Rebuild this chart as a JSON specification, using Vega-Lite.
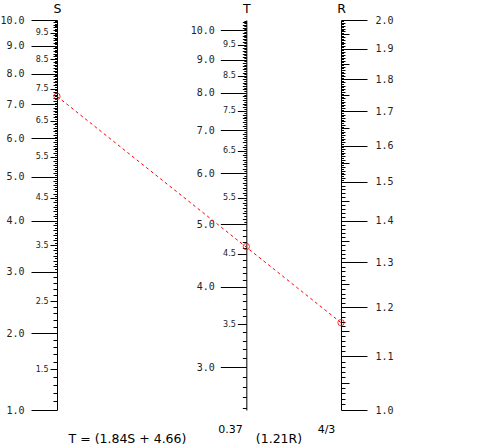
{
  "$schema": "https://vega.github.io/schema/vega-lite/v6.json",
  "width": 284,
  "height": 390,
  "autosize": "none",
  "padding": {"left": 57, "top": 20, "right": 159, "bottom": 34},
  "background": "white",
  "config": {"view": {"stroke": null}},
  "datasets": {
    "isopleth": [{"axis": "S", "t": 7.901}, {"axis": "R", "t": 3.521}],
    "pointS": [{"axis": "S", "value": 7.25}],
    "pointT": [{"axis": "T", "value": 4.62}],
    "pointR": [{"axis": "R", "value": 1.168}]
  },
  "encoding": {
    "x": {
      "field": "axis", "type": "nominal",
      "scale": {"type": "point", "domain": ["S", "gap", "T", "R"], "padding": 0},
      "axis": {
        "orient": "bottom", "title": null, "domain": false, "ticks": false, "tickSize": 0, "grid": false,
        "labelAngle": 0, "labelAlign": "center", "labelBaseline": "alphabetic",
        "labelExpr": "datum.value == 'S' ? 'T = (1.84S + 4.66)' : datum.value == 'gap' ? '(1.21R)' : datum.value == 'T' ? '0.37' : '4/3'",
        "labelOffset": {"condition": [{"test": "datum.value == 'S'", "value": 70}, {"test": "datum.value == 'gap'", "value": 126.8}, {"test": "datum.value == 'T'", "value": -16.3}], "value": -15},
        "labelPadding": {"condition": {"test": "datum.value == 'S' || datum.value == 'gap'", "value": 32}, "value": 22},
        "labelFontSize": {"condition": {"test": "datum.value == 'S' || datum.value == 'gap'", "value": 12.5}, "value": 11},
        "labelFont": "DejaVu Sans", "labelColor": "#000", "labelOverlap": false, "labelBound": false, "labelFlush": false, "labelLimit": 0
      }
    }
  },
  "layer": [
    {
      "data": {"name": "isopleth"},
      "mark": {"type": "line", "color": "red", "strokeWidth": 1, "strokeDash": [3, 3]},
      "encoding": {
        "y": {"field": "t", "type": "quantitative", "scale": {"type": "log", "domain": [2.57726, 10.37556], "nice": false, "zero": false}, "axis": null}
      }
    },
    {
      "data": {"name": "pointS"},
      "mark": {"type": "point", "shape": "circle", "filled": false, "color": "red", "size": 40, "strokeWidth": 0.8, "opacity": 1},
      "encoding": {
        "y": {
          "field": "value", "type": "quantitative",
          "scale": {"type": "symlog", "constant": 2.532609, "domain": [1, 10], "nice": false, "zero": false},
          "axis": {
            "orient": "left", "title": "S",
            "values": [1,1.1,1.2,1.3,1.4,1.5,1.6,1.7,1.8,1.9,2,2.1,2.2,2.3,2.4,2.5,2.6,2.7,2.8,2.9,3,3.05,3.1,3.15,3.2,3.25,3.3,3.35,3.4,3.45,3.5,3.55,3.6,3.65,3.7,3.75,3.8,3.85,3.9,3.95,4,4.05,4.1,4.15,4.2,4.25,4.3,4.35,4.4,4.45,4.5,4.55,4.6,4.65,4.7,4.75,4.8,4.85,4.9,4.95,5,5.05,5.1,5.15,5.2,5.25,5.3,5.35,5.4,5.45,5.5,5.55,5.6,5.65,5.7,5.75,5.8,5.85,5.9,5.95,6,6.05,6.1,6.15,6.2,6.25,6.3,6.35,6.4,6.45,6.5,6.55,6.6,6.65,6.7,6.75,6.8,6.85,6.9,6.95,7,7.05,7.1,7.15,7.2,7.25,7.3,7.35,7.4,7.45,7.5,7.55,7.6,7.65,7.7,7.75,7.8,7.85,7.9,7.95,8,8.05,8.1,8.15,8.2,8.25,8.3,8.35,8.4,8.45,8.5,8.55,8.6,8.65,8.7,8.75,8.8,8.85,8.9,8.95,9,9.05,9.1,9.15,9.2,9.25,9.3,9.35,9.4,9.45,9.5,9.55,9.6,9.65,9.7,9.75,9.8,9.85,9.9,9.95,10],
            "domain": true, "domainColor": "#000", "domainWidth": 1,
            "ticks": true, "tickColor": "#000", "tickWidth": 1,
            "tickSize": {"condition": [
              {"test": "abs(datum.value - round(datum.value)) < 1e-6", "value": 26},
              {"test": "abs(datum.value*2 - round(datum.value*2)) < 1e-6", "value": 7},
              {"test": "abs(datum.value*10 - round(datum.value*10)) < 1e-6", "value": 4}
            ], "value": 2.5},
            "labelExpr": "abs(datum.value*2 - round(datum.value*2)) < 1e-6 ? format(datum.value, '.1f') : ''",
            "labelFont": {"condition": {"test": "abs(datum.value - round(datum.value)) < 1e-6", "value": "DejaVu Sans Mono"}, "value": "DejaVu Sans"},
            "labelFontSize": {"condition": {"test": "abs(datum.value - round(datum.value)) < 1e-6", "value": 10}, "value": 8},
            "labelPadding": {"condition": {"test": "abs(datum.value - round(datum.value)) < 1e-6", "value": 7}, "value": 2},
            "labelColor": "#222", "labelOverlap": false, "labelBound": false, "labelFlush": false, "grid": false,
            "titleAngle": 0, "titleX": 0, "titleY": -8, "titleAlign": "center", "titleBaseline": "alphabetic",
            "titleFont": "DejaVu Sans", "titleFontSize": 12.5, "titleFontWeight": "normal", "titleColor": "#000"
          }
        }
      }
    },
    {
      "data": {"name": "pointT"},
      "mark": {"type": "point", "shape": "circle", "filled": false, "color": "red", "size": 40, "strokeWidth": 0.8, "opacity": 1},
      "encoding": {
        "y": {
          "field": "value", "type": "quantitative",
          "scale": {"type": "log", "domain": [2.57726, 10.37556], "nice": false, "zero": false},
          "axis": {
            "orient": "left", "offset": -189.33, "title": "T",
            "values": [2.6,2.7,2.8,2.9,3,3.1,3.2,3.3,3.4,3.5,3.6,3.7,3.8,3.9,4,4.1,4.2,4.3,4.4,4.5,4.6,4.7,4.8,4.9,5,5.05,5.1,5.15,5.2,5.25,5.3,5.35,5.4,5.45,5.5,5.55,5.6,5.65,5.7,5.75,5.8,5.85,5.9,5.95,6,6.05,6.1,6.15,6.2,6.25,6.3,6.35,6.4,6.45,6.5,6.55,6.6,6.65,6.7,6.75,6.8,6.85,6.9,6.95,7,7.05,7.1,7.15,7.2,7.25,7.3,7.35,7.4,7.45,7.5,7.55,7.6,7.65,7.7,7.75,7.8,7.85,7.9,7.95,8,8.05,8.1,8.15,8.2,8.25,8.3,8.35,8.4,8.45,8.5,8.55,8.6,8.65,8.7,8.75,8.8,8.85,8.9,8.95,9,9.05,9.1,9.15,9.2,9.25,9.3,9.35,9.4,9.45,9.5,9.55,9.6,9.65,9.7,9.75,9.8,9.85,9.9,9.95,10,10.05,10.1,10.15,10.2,10.25,10.3,10.35],
            "domain": true, "domainColor": "#000", "domainWidth": 1,
            "ticks": true, "tickColor": "#000", "tickWidth": 1,
            "tickSize": {"condition": [
              {"test": "abs(datum.value - round(datum.value)) < 1e-6", "value": 26},
              {"test": "abs(datum.value*2 - round(datum.value*2)) < 1e-6", "value": 9},
              {"test": "abs(datum.value*10 - round(datum.value*10)) < 1e-6", "value": 4}
            ], "value": 2.5},
            "labelExpr": "abs(datum.value*2 - round(datum.value*2)) < 1e-6 ? format(datum.value, '.1f') : ''",
            "labelFont": {"condition": {"test": "abs(datum.value - round(datum.value)) < 1e-6", "value": "DejaVu Sans Mono"}, "value": "DejaVu Sans"},
            "labelFontSize": {"condition": {"test": "abs(datum.value - round(datum.value)) < 1e-6", "value": 10}, "value": 8},
            "labelPadding": {"condition": {"test": "abs(datum.value - round(datum.value)) < 1e-6", "value": 6}, "value": 2},
            "labelColor": "#222", "labelOverlap": false, "labelBound": false, "labelFlush": false, "grid": false,
            "titleAngle": 0, "titleX": 0, "titleY": -8, "titleAlign": "center", "titleBaseline": "alphabetic",
            "titleFont": "DejaVu Sans", "titleFontSize": 12.5, "titleFontWeight": "normal", "titleColor": "#000"
          }
        }
      }
    },
    {
      "data": {"name": "pointR"},
      "mark": {"type": "point", "shape": "circle", "filled": false, "color": "red", "size": 40, "strokeWidth": 0.8, "opacity": 1},
      "encoding": {
        "y": {
          "field": "value", "type": "quantitative",
          "scale": {"type": "log", "domain": [1, 2], "nice": false, "zero": false},
          "axis": {
            "orient": "right", "title": "R",
            "values": [1,1.01,1.02,1.03,1.04,1.05,1.06,1.07,1.08,1.09,1.1,1.11,1.12,1.13,1.14,1.15,1.16,1.17,1.18,1.19,1.2,1.21,1.22,1.23,1.24,1.25,1.26,1.27,1.28,1.29,1.3,1.31,1.32,1.33,1.34,1.35,1.36,1.37,1.38,1.39,1.4,1.41,1.42,1.43,1.44,1.45,1.46,1.47,1.48,1.49,1.5,1.505,1.51,1.515,1.52,1.525,1.53,1.535,1.54,1.545,1.55,1.555,1.56,1.565,1.57,1.575,1.58,1.585,1.59,1.595,1.6,1.605,1.61,1.615,1.62,1.625,1.63,1.635,1.64,1.645,1.65,1.655,1.66,1.665,1.67,1.675,1.68,1.685,1.69,1.695,1.7,1.705,1.71,1.715,1.72,1.725,1.73,1.735,1.74,1.745,1.75,1.755,1.76,1.765,1.77,1.775,1.78,1.785,1.79,1.795,1.8,1.805,1.81,1.815,1.82,1.825,1.83,1.835,1.84,1.845,1.85,1.855,1.86,1.865,1.87,1.875,1.88,1.885,1.89,1.895,1.9,1.905,1.91,1.915,1.92,1.925,1.93,1.935,1.94,1.945,1.95,1.955,1.96,1.965,1.97,1.975,1.98,1.985,1.99,1.995,2],
            "domain": true, "domainColor": "#000", "domainWidth": 1,
            "ticks": true, "tickColor": "#000", "tickWidth": 1,
            "tickSize": {"condition": [
              {"test": "abs(datum.value*10 - round(datum.value*10)) < 1e-6", "value": 26},
              {"test": "abs(datum.value*20 - round(datum.value*20)) < 1e-6", "value": 8},
              {"test": "abs(datum.value*100 - round(datum.value*100)) < 1e-6", "value": 4}
            ], "value": 2.5},
            "labelExpr": "abs(datum.value*10 - round(datum.value*10)) < 1e-6 ? format(datum.value, '.1f') : ''",
            "labelFont": "DejaVu Sans Mono", "labelFontSize": 10, "labelPadding": 8,
            "labelColor": "#222", "labelOverlap": false, "labelBound": false, "labelFlush": false, "grid": false,
            "titleAngle": 0, "titleX": 0, "titleY": -8, "titleAlign": "center", "titleBaseline": "alphabetic",
            "titleFont": "DejaVu Sans", "titleFontSize": 12.5, "titleFontWeight": "normal", "titleColor": "#000"
          }
        }
      }
    }
  ],
  "resolve": {"scale": {"y": "independent"}, "axis": {"y": "independent"}}
}
